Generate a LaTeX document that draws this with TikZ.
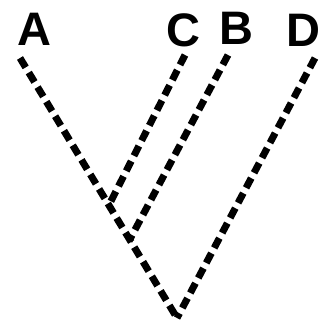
\documentclass[tikz,border=0pt]{standalone}
\usepackage{fontspec}
\setmainfont{Liberation Sans}
\usetikzlibrary{positioning}
\begin{document}
\begin{tikzpicture}[x=1pt,y=-1pt,font=\fontsize{47}{47}\selectfont\bfseries,
  taxon/.style={inner sep=0pt,anchor=base},
  branch/.style={line width=7pt,dash pattern=on 11pt off 6pt}]
\useasboundingbox (0,0) rectangle (322,330);
\node[taxon] (A) at (34,45) {A};
\node[taxon] (C) at (183,46) {C};
\node[taxon] (B) at (236,44) {B};
\node[taxon] (D) at (303,46) {D};
\coordinate (Aend) at (20,58);
\coordinate (Cend) at (185,55);
\coordinate (Bend) at (228,55);
\coordinate (Dend) at (315,58);
\coordinate (CA) at (109,205);
\coordinate (BA) at (129,241);
\coordinate (root) at (177,318);
\draw[branch] (Aend) -- (root);
\draw[branch] (Dend) -- (root);
\draw[branch] (Cend) -- (CA);
\draw[branch] (Bend) -- (BA);
\end{tikzpicture}
\end{document}
